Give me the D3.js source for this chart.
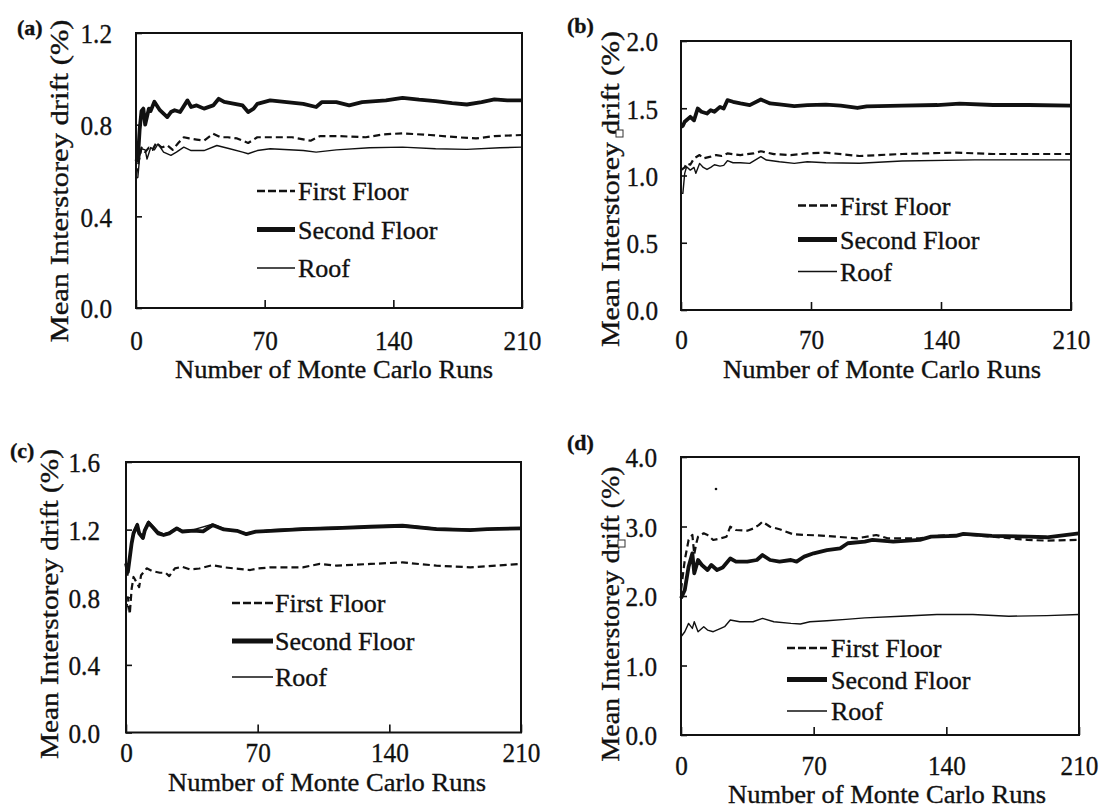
<!DOCTYPE html>
<html>
<head>
<meta charset="utf-8">
<script src="https://cdn.jsdelivr.net/npm/d3@7"></script>
<style>
  body { margin: 0; background: #fff; }
  text { font-family: "Liberation Serif", "Times New Roman", serif; fill: #111; stroke: #111; stroke-width: 0.35px; }
</style>
</head>
<body>
<div id="chart"></div>
<script>
// x ticks shared by all panels
var xTicks = [0, 70, 140, 210];
var seriesNames = ["First Floor", "Second Floor", "Roof"];

// (a) [run, drift %]
var aYTicks = [0, 0.4, 0.8, 1.2];
var aFirst = [[0,0.58],[1,0.62],[2,0.66],[3,0.70],[5,0.68],[7,0.70],[9,0.69],[11,0.72],[14,0.70],[17,0.71],[20,0.69],[23,0.72],[26,0.745],[29,0.74],[33,0.735],[37,0.73],[42,0.76],[46,0.745],[50,0.745],[55,0.74],[61,0.72],[66,0.745],[73,0.745],[85,0.745],[95,0.73],[100,0.75],[110,0.75],[125,0.745],[135,0.758],[145,0.762],[160,0.755],[175,0.745],[185,0.74],[195,0.75],[210,0.755]];
var aSecond = [[0,0.64],[1,0.65],[2,0.78],[3,0.86],[4,0.87],[5,0.80],[7,0.87],[8,0.86],[10,0.90],[13,0.863],[17,0.833],[19,0.855],[21,0.863],[24,0.855],[28,0.906],[30,0.877],[33,0.884],[37,0.87],[42,0.884],[45,0.913],[48,0.899],[53,0.892],[58,0.884],[61,0.855],[64,0.87],[66,0.891],[73,0.906],[82,0.898],[91,0.891],[98,0.877],[101,0.898],[109,0.898],[116,0.884],[123,0.898],[136,0.906],[145,0.917],[154,0.909],[163,0.903],[172,0.894],[180,0.888],[188,0.898],[195,0.91],[202,0.906],[210,0.906]];
var aRoof = [[0,0.565],[1,0.57],[2,0.66],[3,0.695],[5,0.69],[6,0.65],[8,0.70],[10,0.69],[12,0.716],[15,0.68],[19,0.666],[22,0.68],[26,0.702],[30,0.687],[37,0.687],[44,0.709],[51,0.695],[58,0.68],[61,0.673],[66,0.687],[73,0.695],[91,0.687],[98,0.68],[109,0.69],[127,0.699],[145,0.702],[163,0.695],[180,0.692],[198,0.699],[210,0.702]];

// (b)
var bYTicks = [0, 0.5, 1.0, 1.5, 2.0];
var bFirst = [[0,1.04],[2,1.06],[3,1.09],[5,1.08],[7,1.127],[10,1.152],[12,1.127],[16,1.14],[19,1.152],[22,1.145],[25,1.164],[32,1.152],[39,1.164],[43,1.18],[50,1.159],[59,1.152],[68,1.164],[78,1.17],[96,1.145],[119,1.16],[148,1.17],[168,1.16],[210,1.16]];
var bSecond = [[0,1.362],[1,1.37],[2,1.40],[5,1.436],[7,1.41],[9,1.498],[11,1.474],[14,1.461],[16,1.486],[18,1.474],[21,1.51],[23,1.498],[25,1.56],[28,1.548],[32,1.536],[37,1.523],[43,1.565],[48,1.536],[53,1.528],[61,1.516],[68,1.523],[78,1.527],[86,1.52],[95,1.502],[100,1.514],[119,1.519],[138,1.524],[150,1.534],[168,1.524],[187,1.524],[210,1.519]];
var bRoof = [[0,0.867],[1,0.867],[2,1.016],[3,1.065],[5,1.04],[7,1.06],[8,1.016],[10,1.09],[12,1.06],[14,1.045],[16,1.06],[18,1.08],[21,1.07],[23,1.075],[25,1.11],[28,1.095],[32,1.095],[37,1.09],[43,1.14],[46,1.115],[53,1.102],[61,1.09],[68,1.102],[78,1.095],[96,1.091],[119,1.108],[158,1.116],[210,1.116]];

// (c)
var cYTicks = [0, 0.4, 0.8, 1.2, 1.6];
var cFirst = [[0,0.72],[1,0.80],[2,0.70],[3,0.85],[4,0.92],[5,0.90],[7,0.86],[8,0.93],[11,0.971],[14,0.955],[18,0.945],[21,0.945],[23,0.925],[26,0.971],[30,0.98],[34,0.965],[39,0.97],[46,0.99],[53,0.976],[60,0.968],[66,0.961],[70,0.97],[77,0.977],[94,0.977],[103,0.997],[112,0.987],[130,0.997],[147,1.006],[165,0.987],[183,0.977],[210,0.997]];
var cSecond = [[0,1.0],[1,0.95],[3,1.119],[4,1.178],[6,1.227],[7,1.178],[9,1.15],[10,1.196],[12,1.241],[14,1.217],[17,1.178],[20,1.168],[23,1.178],[27,1.207],[30,1.188],[36,1.194],[41,1.19],[46,1.227],[52,1.201],[59,1.193],[64,1.173],[69,1.188],[77,1.193],[94,1.203],[112,1.209],[130,1.217],[147,1.223],[165,1.203],[183,1.197],[192,1.203],[210,1.207]];
var cRoof = [[0,0.98],[1,0.93],[3,1.13],[4,1.19],[6,1.237],[7,1.19],[9,1.16],[10,1.205],[12,1.25],[14,1.225],[17,1.19],[20,1.175],[23,1.185],[27,1.212],[30,1.195],[36,1.2],[46,1.232],[52,1.207],[64,1.18],[77,1.2],[94,1.208],[112,1.214],[130,1.221],[147,1.228],[165,1.208],[183,1.202],[210,1.211]];

// (d)
var dYTicks = [0, 1.0, 2.0, 3.0, 4.0];
var dFirst = [[0,2.086],[2,2.518],[4,2.806],[6,2.878],[7,2.6],[8,2.75],[9,2.853],[12,2.902],[14,2.878],[17,2.806],[21,2.83],[24,2.853],[26,2.997],[29,2.95],[35,2.94],[38,2.97],[41,3.02],[43,3.069],[47,2.997],[52,2.96],[59,2.89],[66,2.878],[74,2.87],[93,2.83],[103,2.878],[109,2.83],[126,2.83],[135,2.864],[149,2.888],[164,2.854],[183,2.807],[193,2.797],[210,2.807]];
var dSecond = [[0,1.967],[2,2.086],[4,2.42],[6,2.614],[7,2.326],[9,2.518],[11,2.446],[14,2.374],[16,2.446],[19,2.374],[22,2.41],[26,2.54],[29,2.494],[35,2.494],[40,2.518],[43,2.59],[47,2.518],[52,2.494],[58,2.518],[61,2.494],[65,2.566],[70,2.614],[77,2.66],[84,2.686],[88,2.759],[97,2.783],[101,2.807],[112,2.783],[126,2.807],[132,2.854],[145,2.864],[149,2.893],[164,2.864],[183,2.854],[193,2.845],[210,2.902]];
var dRoof = [[0,1.414],[2,1.486],[4,1.606],[6,1.534],[7,1.63],[9,1.486],[12,1.558],[14,1.51],[17,1.486],[21,1.534],[23,1.558],[26,1.654],[31,1.63],[38,1.63],[43,1.678],[49,1.63],[58,1.606],[63,1.597],[68,1.63],[77,1.644],[87,1.663],[97,1.685],[116,1.709],[135,1.733],[154,1.733],[173,1.709],[193,1.718],[210,1.733]];

//Line styles for first / second / roof
var lineStyles = [
    {width: 2.2, dash: "7,4", legendWidth: 2.6, legendDash: "8,3"},
    {width: 3.8, dash: null, legendWidth: 5, legendDash: null},
    {width: 1.4, dash: null, legendWidth: 1.5, legendDash: null}
];

//Panel layout
var panels = [
    {tag: "(a)", L: 136, R: 522, T: 33, B: 308, yMax: 1.2, yTicks: aYTicks, data: [aFirst, aSecond, aRoof],
     tagPos: [17, 35], tickRight: 112, xLabOff: 32, xTitle: [334, 378], yTitle: [68, 181, 323],
     legend: {x1: 257, x2: 295, tx: 298, base: [200, 238.5, 277]}},
    {tag: "(b)", L: 681, R: 1071, T: 41, B: 310, yMax: 2.0, yTicks: bYTicks, data: [bFirst, bSecond, bRoof],
     tagPos: [567, 33], tickRight: 658, xLabOff: 29, xTitle: [882, 378], yTitle: [619, 189, 316],
     legend: {x1: 798, x2: 837, tx: 840, base: [214.5, 248.5, 280.5]}},
    {tag: "(c)", L: 126, R: 521, T: 462, B: 732.5, yMax: 1.6, yTicks: cYTicks, data: [cFirst, cSecond, cRoof],
     tagPos: [10, 458], tickRight: 100, xLabOff: 20, xTitle: [327, 791], yTitle: [58, 604, 310],
     legend: {x1: 232, x2: 273, tx: 275, base: [612, 650, 686]}},
    {tag: "(d)", L: 681, R: 1079, T: 457, B: 735, yMax: 4.0, yTicks: dYTicks, data: [dFirst, dSecond, dRoof],
     tagPos: [567, 450], tickRight: 657, xLabOff: 30, xTitle: [887, 803], yTitle: [619, 614, 295],
     legend: {x1: 787, x2: 827, tx: 831, base: [657, 688.5, 720]}}
];

var svg = d3.select("#chart")
    .append("svg")
    .attr("width", 1107)
    .attr("height", 810);

panels.forEach(function(p) {
    var g = svg.append("g");

    var x = d3.scaleLinear().domain([0, 210]).range([p.L, p.R]);
    var y = d3.scaleLinear().domain([0, p.yMax]).range([p.B, p.T]);

    //Bottom axis with inward ticks
    var xAxis = g.append("g")
        .attr("transform", `translate(0, ${p.B})`)
        .call(d3.axisBottom(x).tickValues(xTicks).tickSizeInner(-8).tickSizeOuter(0).tickFormat(d3.format("d")));
    xAxis.select(".domain").remove();
    xAxis.selectAll("line").attr("stroke", "#111").attr("stroke-width", 1.6);
    xAxis.selectAll("text")
        .attr("y", p.xLabOff)
        .attr("dy", "0.35em")
        .style("font-size", "28px")
        .attr("fill", "#111");

    //Left axis with inward ticks
    var yAxis = g.append("g")
        .attr("transform", `translate(${p.L}, 0)`)
        .call(d3.axisLeft(y).tickValues(p.yTicks).tickSizeInner(-6).tickSizeOuter(0).tickFormat(d3.format(".1f")));
    yAxis.select(".domain").remove();
    yAxis.selectAll("line").attr("stroke", "#111").attr("stroke-width", 1.6);
    yAxis.selectAll("text")
        .attr("x", p.tickRight - p.L)
        .attr("dy", "0.35em")
        .style("font-size", "28px")
        .attr("fill", "#111");

    //condense tick labels a little
    g.selectAll(".tick text").each(function() {
        var w = this.getComputedTextLength();
        d3.select(this).attr("textLength", w * 0.9).attr("lengthAdjust", "spacingAndGlyphs");
    });

    //Plot frame
    g.append("rect")
        .attr("x", p.L)
        .attr("y", p.T)
        .attr("width", p.R - p.L)
        .attr("height", p.B - p.T)
        .attr("fill", "none")
        .attr("stroke", "#111")
        .attr("stroke-width", 2);

    //Series lines
    var line = d3.line()
        .x(d => x(d[0]))
        .y(d => y(d[1]));

    p.data.forEach(function(series, i) {
        var s = lineStyles[i];
        g.append("path")
            .datum(series)
            .attr("d", line)
            .attr("fill", "none")
            .attr("stroke", "#111")
            .attr("stroke-width", s.width)
            .attr("stroke-linejoin", "round")
            .attr("stroke-dasharray", s.dash);
    });

    //Legend
    seriesNames.forEach(function(name, i) {
        var s = lineStyles[i];
        var by = p.legend.base[i];
        g.append("line")
            .attr("x1", p.legend.x1)
            .attr("x2", p.legend.x2)
            .attr("y1", by - 9)
            .attr("y2", by - 9)
            .attr("stroke", "#111")
            .attr("stroke-width", s.legendWidth)
            .attr("stroke-dasharray", s.legendDash);
        g.append("text")
            .attr("x", p.legend.tx)
            .attr("y", by)
            .style("font-size", "26px")
            .text(name);
    });

    //Axis titles
    g.append("text")
        .attr("x", p.xTitle[0])
        .attr("y", p.xTitle[1])
        .attr("text-anchor", "middle")
        .style("font-size", "26px")
        .attr("textLength", 318)
        .attr("lengthAdjust", "spacingAndGlyphs")
        .text("Number of Monte Carlo Runs");

    g.append("text")
        .attr("transform", `translate(${p.yTitle[0]}, ${p.yTitle[1]}) rotate(-90)`)
        .attr("text-anchor", "middle")
        .style("font-size", "25px")
        .attr("textLength", p.yTitle[2])
        .attr("lengthAdjust", "spacingAndGlyphs")
        .text("Mean Interstorey drift (%)");

    //Panel tag
    g.append("text")
        .attr("x", p.tagPos[0])
        .attr("y", p.tagPos[1])
        .style("font-size", "22px")
        .style("font-weight", "bold")
        .text(p.tag);
});

//small marks present in the original scan
svg.append("rect").attr("x", 616).attr("y", 130).attr("width", 7).attr("height", 7)
    .attr("fill", "#fff").attr("stroke", "#333").attr("stroke-width", 1);
svg.append("rect").attr("x", 618).attr("y", 540).attr("width", 7).attr("height", 7)
    .attr("fill", "#fff").attr("stroke", "#333").attr("stroke-width", 1);
svg.append("circle").attr("cx", 716).attr("cy", 489).attr("r", 1.3).attr("fill", "#111");
</script>
</body>
</html>
